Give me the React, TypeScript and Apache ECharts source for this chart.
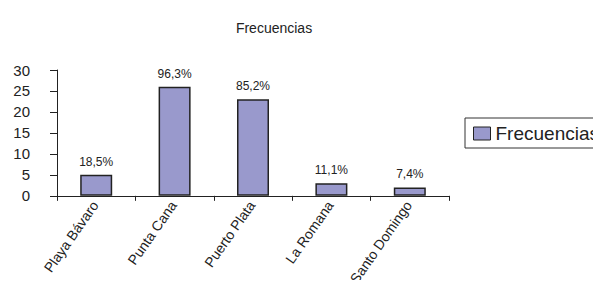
import React, { useEffect, useRef } from "react";
import * as echarts from "echarts";

const categories = ["Playa Bávaro", "Punta Cana", "Puerto Plata", "La Romana", "Santo Domingo"];
const frecuencias = [5, 26, 23, 3, 2];
const porcentajes = ["18,5%", "96,3%", "85,2%", "11,1%", "7,4%"];
const seriesName = "Frecuencias";
const titleText = "Frecuencias";

export default function App() {
  const ref = useRef<HTMLDivElement>(null);
  useEffect(() => {
    if (!ref.current) return;
    const chart = echarts.init(ref.current, null, { renderer: "svg" });
    const font = "Liberation Sans, Arial, sans-serif";
    chart.setOption({
      animation: false,
      backgroundColor: "#ffffff",
      title: {
        text: titleText,
        left: 269,
        top: 16,
        textAlign: "center",
        textStyle: { fontSize: 14, fontWeight: "normal", color: "#222", fontFamily: font },
      },
      legend: {
        data: [seriesName],
        left: 465,
        top: 118,
        orient: "vertical",
        icon: "rect",
        borderColor: "#333",
        borderWidth: 1,
        padding: [6, 24, 5, 8],
        itemWidth: 17,
        itemHeight: 13,
        itemGap: 0,
        textStyle: { fontSize: 19, color: "#222", fontFamily: font },
        itemStyle: { borderColor: "#222", borderWidth: 1 },
      },
      grid: { left: 57, right: 152, top: 70, bottom: 91, containLabel: false },
      xAxis: {
        type: "category",
        data: categories,
        axisLine: { lineStyle: { color: "#222", width: 1 } },
        axisTick: { show: true, alignWithLabel: false, length: 5, lineStyle: { color: "#222" } },
        axisLabel: {
          rotate: 55,
          interval: 0,
          margin: 5,
          fontSize: 14,
          color: "#222",
          fontFamily: font,
          padding: [0, 2, 10, 0],
        },
      },
      yAxis: {
        type: "value",
        min: 0,
        max: 30,
        interval: 5,
        splitLine: { show: false },
        axisLine: { show: true, lineStyle: { color: "#222", width: 1 } },
        axisTick: { show: true, length: 7, lineStyle: { color: "#222" } },
        axisLabel: { margin: 27, fontSize: 15, color: "#222", fontFamily: font },
      },
      series: [
        {
          name: seriesName,
          type: "bar",
          data: frecuencias,
          barWidth: 32,
          itemStyle: { color: "#9999CC", borderColor: "#222", borderWidth: 1.5 },
          label: {
            show: true,
            position: "top",
            distance: 7,
            fontSize: 12,
            color: "#222",
            fontFamily: font,
            formatter: (p: any) => porcentajes[p.dataIndex],
          },
        },
      ],
    });
    return () => chart.dispose();
  }, []);
  return <div ref={ref} style={{ width: 601, height: 288, margin: -8 }} />;
}
